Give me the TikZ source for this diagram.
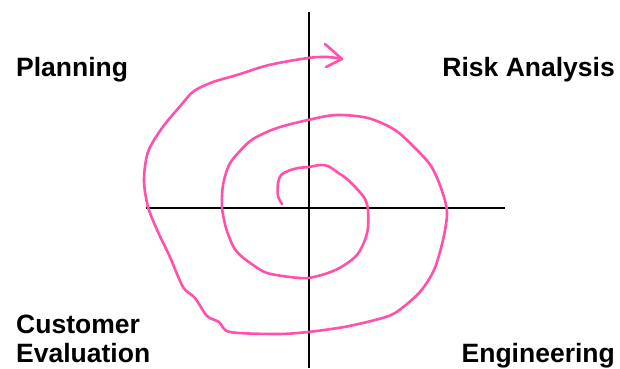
\documentclass[tikz,border=0pt]{standalone}
\usepackage{fontspec}
\setmainfont{Liberation Sans}
\definecolor{spiralpink}{RGB}{255,80,170}
\begin{document}
\begin{tikzpicture}[x=1pt, y=-1pt,
    phase/.style={font=\fontsize{26.5}{29}\selectfont\bfseries, inner sep=0pt},
    spiral/.style={spiralpink, line width=2.6pt, line cap=round, line join=round}]
    \useasboundingbox (0,0) rectangle (620,368);

    % Quadrant axes
    \coordinate (top) at (309,12);
    \coordinate (bottom) at (309,368);
    \coordinate (left) at (146,208);
    \coordinate (right) at (505,208);
    \draw[line width=2.2pt] (top) -- (bottom);
    \draw[line width=2.2pt] (left) -- (right);

    % Phase labels
    \node[phase, anchor=base west] (plan) at (16,76.5) {Planning};
    \node[phase, anchor=base east] (risk) at (615,76.5) {Risk Analysis};
    \node[phase, anchor=base west, align=left] (eval) at (16,362) {Customer\\Evaluation};
    \node[phase, anchor=base east] (eng) at (615,362) {Engineering};

    % Spiral
    \coordinate (tip) at (342,59);
    \draw[spiral] plot[smooth, tension=0.5] coordinates {
        (282,204) (278,196) (278,183) (281,175) (288,171) (298,168) (309,167)
        (320,165) (328,166) (337,172) (347,179) (357,189) (365,199) (368,210)
        (368,227) (365,240) (357,255) (343,266) (328,273) (308,278) (290,277)
        (267,273) (253,265) (240,255) (233,246) (226,228) (222,207) (223,185)
        (229,165) (239,152) (253,139) (277,128) (308,120) (336,115) (368,118)
        (395,130) (415,148) (431,166) (441,188) (447,212) (443,240) (434,270)
        (419,293) (395,313) (375,320) (344,327) (308,332) (277,334) (230,332)
        (219,322) (207,316) (195,298) (183,287) (170,257) (158,232) (148,207)
        (144,180) (148,152) (162,128) (182,104) (194,91) (213,82) (237,75)
        (269,65) (308,58) (328,57) (tip)};
    \draw[spiral] (325,44) -- (tip) -- (326,67);
\end{tikzpicture}
\end{document}
